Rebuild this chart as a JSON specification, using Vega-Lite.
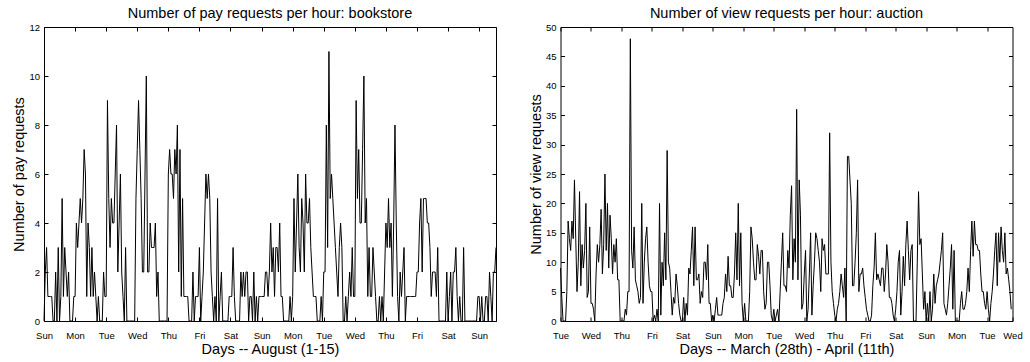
{
"$schema": "https://vega.github.io/schema/vega-lite/v6.json",
"padding": {"left": 11, "top": 5, "right": 5, "bottom": 5},
"background": "white",
"spacing": 28.5,
"config": {
  "view": {"stroke": "#000", "strokeWidth": 1},
  "font": "Liberation Sans",
  "axis": {"domain": false, "grid": false, "tickColor": "#000", "tickWidth": 1, "tickSize": -4, "labelColor": "#000", "labelFont": "Liberation Sans", "labelFontSize": 9.5, "titleFont": "Liberation Sans", "titleFontSize": 14.5, "titleFontWeight": "normal", "titleColor": "#000", "labelFlush": false, "labelOverlap": false},
  "axisX": {"labelPadding": 13, "titlePadding": 3},
  "axisY": {"labelPadding": 8.5, "titlePadding": 2},
  "title": {"fontSize": 14.5, "fontWeight": "normal", "font": "Liberation Sans", "color": "#000", "offset": 1}
},
"datasets": {
"pay": [{"h":0,"v":0},{"h":1,"v":2},{"h":2,"v":3},{"h":3,"v":1},{"h":4,"v":1},{"h":5,"v":1},{"h":6,"v":1},{"h":7,"v":0},{"h":8,"v":0},{"h":9,"v":2},{"h":10,"v":0},{"h":11,"v":3},{"h":12,"v":0},{"h":13,"v":1},{"h":14,"v":5},{"h":15,"v":1},{"h":16,"v":3},{"h":17,"v":2},{"h":18,"v":1},{"h":19,"v":2},{"h":20,"v":0},{"h":21,"v":0},{"h":22,"v":0},{"h":23,"v":1},
{"h":24,"v":1},{"h":25,"v":4},{"h":26,"v":3},{"h":27,"v":4},{"h":28,"v":5},{"h":29,"v":4},{"h":30,"v":5},{"h":31,"v":7},{"h":32,"v":6},{"h":33,"v":1},{"h":34,"v":4},{"h":35,"v":3},{"h":36,"v":1},{"h":37,"v":3},{"h":38,"v":1},{"h":39,"v":2},{"h":40,"v":1},{"h":41,"v":0},{"h":42,"v":1},{"h":43,"v":0},{"h":44,"v":0},{"h":45,"v":0},{"h":46,"v":2},{"h":47,"v":1},
{"h":48,"v":1},{"h":49,"v":9},{"h":50,"v":5},{"h":51,"v":3},{"h":52,"v":5},{"h":53,"v":4},{"h":54,"v":4},{"h":55,"v":6},{"h":56,"v":8},{"h":57,"v":2},{"h":58,"v":4},{"h":59,"v":6},{"h":60,"v":2},{"h":61,"v":1},{"h":62,"v":0},{"h":63,"v":3},{"h":64,"v":0},{"h":65,"v":0},{"h":66,"v":0},{"h":67,"v":0},{"h":68,"v":0},{"h":69,"v":0},{"h":70,"v":0},{"h":71,"v":5},
{"h":72,"v":7},{"h":73,"v":9},{"h":74,"v":7},{"h":75,"v":5},{"h":76,"v":2},{"h":77,"v":2},{"h":78,"v":6},{"h":79,"v":10},{"h":80,"v":2},{"h":81,"v":2},{"h":82,"v":4},{"h":83,"v":3},{"h":84,"v":3},{"h":85,"v":3},{"h":86,"v":4},{"h":87,"v":1},{"h":88,"v":2},{"h":89,"v":0},{"h":90,"v":0},{"h":91,"v":0},{"h":92,"v":0},{"h":93,"v":0},{"h":94,"v":0},{"h":95,"v":0},
{"h":96,"v":6},{"h":97,"v":7},{"h":98,"v":6},{"h":99,"v":6},{"h":100,"v":5},{"h":101,"v":7},{"h":102,"v":6},{"h":103,"v":8},{"h":104,"v":2},{"h":105,"v":7},{"h":106,"v":1},{"h":107,"v":5},{"h":108,"v":1},{"h":109,"v":1},{"h":110,"v":1},{"h":111,"v":1},{"h":112,"v":0},{"h":113,"v":0},{"h":114,"v":0},{"h":115,"v":2},{"h":116,"v":0},{"h":117,"v":1},{"h":118,"v":1},{"h":119,"v":1},
{"h":120,"v":3},{"h":121,"v":0},{"h":122,"v":1},{"h":123,"v":2},{"h":124,"v":4},{"h":125,"v":6},{"h":126,"v":5},{"h":127,"v":6},{"h":128,"v":5},{"h":129,"v":2},{"h":130,"v":1},{"h":131,"v":0},{"h":132,"v":1},{"h":133,"v":0},{"h":134,"v":5},{"h":135,"v":0},{"h":136,"v":1},{"h":137,"v":2},{"h":138,"v":0},{"h":139,"v":0},{"h":140,"v":0},{"h":141,"v":0},{"h":142,"v":0},{"h":143,"v":1},
{"h":144,"v":1},{"h":145,"v":1},{"h":146,"v":3},{"h":147,"v":1},{"h":148,"v":0},{"h":149,"v":0},{"h":150,"v":0},{"h":151,"v":0},{"h":152,"v":2},{"h":153,"v":1},{"h":154,"v":2},{"h":155,"v":1},{"h":156,"v":2},{"h":157,"v":2},{"h":158,"v":0},{"h":159,"v":1},{"h":160,"v":1},{"h":161,"v":0},{"h":162,"v":2},{"h":163,"v":0},{"h":164,"v":1},{"h":165,"v":0},{"h":166,"v":1},{"h":167,"v":1},
{"h":168,"v":1},{"h":169,"v":1},{"h":170,"v":1},{"h":171,"v":2},{"h":172,"v":2},{"h":173,"v":1},{"h":174,"v":2},{"h":175,"v":4},{"h":176,"v":2},{"h":177,"v":3},{"h":178,"v":1},{"h":179,"v":3},{"h":180,"v":3},{"h":181,"v":2},{"h":182,"v":4},{"h":183,"v":1},{"h":184,"v":1},{"h":185,"v":0},{"h":186,"v":0},{"h":187,"v":0},{"h":188,"v":0},{"h":189,"v":0},{"h":190,"v":1},{"h":191,"v":0},
{"h":192,"v":1},{"h":193,"v":5},{"h":194,"v":2},{"h":195,"v":4},{"h":196,"v":6},{"h":197,"v":3},{"h":198,"v":2},{"h":199,"v":5},{"h":200,"v":4},{"h":201,"v":2},{"h":202,"v":6},{"h":203,"v":4},{"h":204,"v":4},{"h":205,"v":5},{"h":206,"v":3},{"h":207,"v":2},{"h":208,"v":1},{"h":209,"v":1},{"h":210,"v":1},{"h":211,"v":0},{"h":212,"v":0},{"h":213,"v":0},{"h":214,"v":1},{"h":215,"v":0},
{"h":216,"v":2},{"h":217,"v":2},{"h":218,"v":8},{"h":219,"v":3},{"h":220,"v":11},{"h":221,"v":5},{"h":222,"v":6},{"h":223,"v":5},{"h":224,"v":4},{"h":225,"v":3},{"h":226,"v":2},{"h":227,"v":1},{"h":228,"v":3},{"h":229,"v":4},{"h":230,"v":3},{"h":231,"v":0},{"h":232,"v":0},{"h":233,"v":1},{"h":234,"v":0},{"h":235,"v":1},{"h":236,"v":2},{"h":237,"v":1},{"h":238,"v":3},{"h":239,"v":1},
{"h":240,"v":1},{"h":241,"v":9},{"h":242,"v":5},{"h":243,"v":7},{"h":244,"v":4},{"h":245,"v":4},{"h":246,"v":7},{"h":247,"v":10},{"h":248,"v":4},{"h":249,"v":5},{"h":250,"v":1},{"h":251,"v":3},{"h":252,"v":1},{"h":253,"v":1},{"h":254,"v":3},{"h":255,"v":2},{"h":256,"v":1},{"h":257,"v":0},{"h":258,"v":0},{"h":259,"v":1},{"h":260,"v":0},{"h":261,"v":1},{"h":262,"v":0},{"h":263,"v":2},
{"h":264,"v":4},{"h":265,"v":3},{"h":266,"v":5},{"h":267,"v":3},{"h":268,"v":4},{"h":269,"v":1},{"h":270,"v":4},{"h":271,"v":8},{"h":272,"v":4},{"h":273,"v":1},{"h":274,"v":0},{"h":275,"v":2},{"h":276,"v":1},{"h":277,"v":2},{"h":278,"v":3},{"h":279,"v":0},{"h":280,"v":1},{"h":281,"v":1},{"h":282,"v":1},{"h":283,"v":1},{"h":284,"v":1},{"h":285,"v":1},{"h":286,"v":1},{"h":287,"v":1},
{"h":288,"v":2},{"h":289,"v":2},{"h":290,"v":4},{"h":291,"v":5},{"h":292,"v":2},{"h":293,"v":5},{"h":294,"v":5},{"h":295,"v":5},{"h":296,"v":4},{"h":297,"v":4},{"h":298,"v":3},{"h":299,"v":1},{"h":300,"v":2},{"h":301,"v":2},{"h":302,"v":2},{"h":303,"v":1},{"h":304,"v":3},{"h":305,"v":0},{"h":306,"v":0},{"h":307,"v":0},{"h":308,"v":0},{"h":309,"v":0},{"h":310,"v":0},{"h":311,"v":2},
{"h":312,"v":0},{"h":313,"v":1},{"h":314,"v":2},{"h":315,"v":0},{"h":316,"v":2},{"h":317,"v":2},{"h":318,"v":3},{"h":319,"v":1},{"h":320,"v":0},{"h":321,"v":1},{"h":322,"v":0},{"h":323,"v":0},{"h":324,"v":3},{"h":325,"v":0},{"h":326,"v":0},{"h":327,"v":0},{"h":328,"v":0},{"h":329,"v":0},{"h":330,"v":0},{"h":331,"v":0},{"h":332,"v":0},{"h":333,"v":0},{"h":334,"v":0},{"h":335,"v":1},
{"h":336,"v":1},{"h":337,"v":0},{"h":338,"v":1},{"h":339,"v":0},{"h":340,"v":0},{"h":341,"v":1},{"h":342,"v":1},{"h":343,"v":0},{"h":344,"v":2},{"h":345,"v":1},{"h":346,"v":0},{"h":347,"v":2},{"h":348,"v":2},{"h":349,"v":3}],
"view": [{"h":0,"v":9},{"h":1,"v":4},{"h":2,"v":0},{"h":3,"v":0},{"h":4,"v":0},{"h":5,"v":5},{"h":6,"v":17},{"h":7,"v":14},{"h":8,"v":12},{"h":9,"v":17},{"h":10,"v":14},{"h":11,"v":24},{"h":12,"v":14},{"h":13,"v":5},{"h":14,"v":10},{"h":15,"v":22},{"h":16,"v":6},{"h":17,"v":13},{"h":18,"v":9},{"h":19,"v":12},{"h":20,"v":20},{"h":21,"v":4},{"h":22,"v":5},{"h":23,"v":16},
{"h":24,"v":3},{"h":25,"v":3},{"h":26,"v":2},{"h":27,"v":0},{"h":28,"v":8},{"h":29,"v":13},{"h":30,"v":10},{"h":31,"v":13},{"h":32,"v":19},{"h":33,"v":8},{"h":34,"v":13},{"h":35,"v":25},{"h":36,"v":12},{"h":37,"v":20},{"h":38,"v":9},{"h":39,"v":18},{"h":40,"v":14},{"h":41,"v":8},{"h":42,"v":13},{"h":43,"v":10},{"h":44,"v":14},{"h":45,"v":7},{"h":46,"v":7},{"h":47,"v":0},
{"h":48,"v":0},{"h":49,"v":0},{"h":50,"v":0},{"h":51,"v":2},{"h":52,"v":1},{"h":53,"v":5},{"h":54,"v":5},{"h":55,"v":48},{"h":56,"v":12},{"h":57,"v":9},{"h":58,"v":16},{"h":59,"v":7},{"h":60,"v":6},{"h":61,"v":5},{"h":62,"v":3},{"h":63,"v":4},{"h":64,"v":20},{"h":65,"v":3},{"h":66,"v":10},{"h":67,"v":14},{"h":68,"v":16},{"h":69,"v":10},{"h":70,"v":6},{"h":71,"v":5},
{"h":72,"v":5},{"h":73,"v":0},{"h":74,"v":1},{"h":75,"v":0},{"h":76,"v":2},{"h":77,"v":0},{"h":78,"v":20},{"h":79,"v":1},{"h":80,"v":10},{"h":81,"v":6},{"h":82,"v":15},{"h":83,"v":7},{"h":84,"v":29},{"h":85,"v":10},{"h":86,"v":9},{"h":87,"v":5},{"h":88,"v":1},{"h":89,"v":4},{"h":90,"v":3},{"h":91,"v":8},{"h":92,"v":6},{"h":93,"v":3},{"h":94,"v":1},{"h":95,"v":0},
{"h":96,"v":0},{"h":97,"v":4},{"h":98,"v":0},{"h":99,"v":3},{"h":100,"v":1},{"h":101,"v":9},{"h":102,"v":8},{"h":103,"v":12},{"h":104,"v":16},{"h":105,"v":6},{"h":106,"v":16},{"h":107,"v":7},{"h":108,"v":7},{"h":109,"v":8},{"h":110,"v":3},{"h":111,"v":5},{"h":112,"v":4},{"h":113,"v":10},{"h":114,"v":10},{"h":115,"v":7},{"h":116,"v":13},{"h":117,"v":3},{"h":118,"v":3},{"h":119,"v":0},
{"h":120,"v":1},{"h":121,"v":0},{"h":122,"v":2},{"h":123,"v":4},{"h":124,"v":1},{"h":125,"v":1},{"h":126,"v":1},{"h":127,"v":1},{"h":128,"v":3},{"h":129,"v":4},{"h":130,"v":8},{"h":131,"v":5},{"h":132,"v":11},{"h":133,"v":6},{"h":134,"v":6},{"h":135,"v":4},{"h":136,"v":4},{"h":137,"v":8},{"h":138,"v":15},{"h":139,"v":7},{"h":140,"v":20},{"h":141,"v":6},{"h":142,"v":15},{"h":143,"v":3},
{"h":144,"v":0},{"h":145,"v":3},{"h":146,"v":0},{"h":147,"v":0},{"h":148,"v":0},{"h":149,"v":5},{"h":150,"v":16},{"h":151,"v":14},{"h":152,"v":10},{"h":153,"v":7},{"h":154,"v":7},{"h":155,"v":13},{"h":156,"v":11},{"h":157,"v":8},{"h":158,"v":12},{"h":159,"v":12},{"h":160,"v":5},{"h":161,"v":2},{"h":162,"v":3},{"h":163,"v":10},{"h":164,"v":10},{"h":165,"v":6},{"h":166,"v":1},{"h":167,"v":0},
{"h":168,"v":2},{"h":169,"v":0},{"h":170,"v":1},{"h":171,"v":2},{"h":172,"v":0},{"h":173,"v":5},{"h":174,"v":10},{"h":175,"v":15},{"h":176,"v":6},{"h":177,"v":6},{"h":178,"v":5},{"h":179,"v":12},{"h":180,"v":9},{"h":181,"v":18},{"h":182,"v":23},{"h":183,"v":7},{"h":184,"v":14},{"h":185,"v":10},{"h":186,"v":36},{"h":187,"v":7},{"h":188,"v":24},{"h":189,"v":18},{"h":190,"v":2},{"h":191,"v":3},
{"h":192,"v":8},{"h":193,"v":12},{"h":194,"v":0},{"h":195,"v":2},{"h":196,"v":8},{"h":197,"v":15},{"h":198,"v":1},{"h":199,"v":6},{"h":200,"v":10},{"h":201,"v":15},{"h":202,"v":14},{"h":203,"v":12},{"h":204,"v":10},{"h":205,"v":5},{"h":206,"v":14},{"h":207,"v":12},{"h":208,"v":13},{"h":209,"v":8},{"h":210,"v":8},{"h":211,"v":8},{"h":212,"v":32},{"h":213,"v":10},{"h":214,"v":5},{"h":215,"v":3},
{"h":216,"v":1},{"h":217,"v":0},{"h":218,"v":2},{"h":219,"v":3},{"h":220,"v":5},{"h":221,"v":8},{"h":222,"v":6},{"h":223,"v":4},{"h":224,"v":9},{"h":225,"v":0},{"h":226,"v":28},{"h":227,"v":28},{"h":228,"v":24},{"h":229,"v":20},{"h":230,"v":6},{"h":231,"v":6},{"h":232,"v":10},{"h":233,"v":15},{"h":234,"v":24},{"h":235,"v":5},{"h":236,"v":8},{"h":237,"v":8},{"h":238,"v":9},{"h":239,"v":6},
{"h":240,"v":4},{"h":241,"v":2},{"h":242,"v":1},{"h":243,"v":0},{"h":244,"v":0},{"h":245,"v":1},{"h":246,"v":6},{"h":247,"v":9},{"h":248,"v":15},{"h":249,"v":7},{"h":250,"v":8},{"h":251,"v":7},{"h":252,"v":6},{"h":253,"v":9},{"h":254,"v":9},{"h":255,"v":5},{"h":256,"v":8},{"h":257,"v":13},{"h":258,"v":10},{"h":259,"v":4},{"h":260,"v":4},{"h":261,"v":3},{"h":262,"v":1},{"h":263,"v":0},
{"h":264,"v":2},{"h":265,"v":5},{"h":266,"v":10},{"h":267,"v":12},{"h":268,"v":1},{"h":269,"v":5},{"h":270,"v":11},{"h":271,"v":6},{"h":272,"v":13},{"h":273,"v":17},{"h":274,"v":12},{"h":275,"v":7},{"h":276,"v":12},{"h":277,"v":13},{"h":278,"v":0},{"h":279,"v":0},{"h":280,"v":0},{"h":281,"v":10},{"h":282,"v":22},{"h":283,"v":13},{"h":284,"v":14},{"h":285,"v":8},{"h":286,"v":2},{"h":287,"v":5},
{"h":288,"v":0},{"h":289,"v":3},{"h":290,"v":0},{"h":291,"v":5},{"h":292,"v":0},{"h":293,"v":2},{"h":294,"v":8},{"h":295,"v":3},{"h":296,"v":6},{"h":297,"v":7},{"h":298,"v":8},{"h":299,"v":10},{"h":300,"v":12},{"h":301,"v":15},{"h":302,"v":3},{"h":303,"v":2},{"h":304,"v":1},{"h":305,"v":3},{"h":306,"v":6},{"h":307,"v":9},{"h":308,"v":13},{"h":309,"v":2},{"h":310,"v":12},{"h":311,"v":0},
{"h":312,"v":0},{"h":313,"v":0},{"h":314,"v":0},{"h":315,"v":3},{"h":316,"v":5},{"h":317,"v":2},{"h":318,"v":2},{"h":319,"v":3},{"h":320,"v":5},{"h":321,"v":9},{"h":322,"v":5},{"h":323,"v":12},{"h":324,"v":17},{"h":325,"v":11},{"h":326,"v":17},{"h":327,"v":13},{"h":328,"v":13},{"h":329,"v":12},{"h":330,"v":12},{"h":331,"v":8},{"h":332,"v":5},{"h":333,"v":5},{"h":334,"v":3},{"h":335,"v":2},
{"h":336,"v":5},{"h":337,"v":2},{"h":338,"v":0},{"h":339,"v":3},{"h":340,"v":5},{"h":341,"v":8},{"h":342,"v":12},{"h":343,"v":15},{"h":344,"v":6},{"h":345,"v":15},{"h":346,"v":10},{"h":347,"v":16},{"h":348,"v":12},{"h":349,"v":10},{"h":350,"v":15},{"h":351,"v":8},{"h":352,"v":9},{"h":353,"v":7},{"h":354,"v":5},{"h":355,"v":2}]
},
"hconcat": [
{
  "width": 452, "height": 294,
  "title": "Number of pay requests per hour: bookstore",
  "data": {"name": "pay"},
  "layer": [
    {"mark": {"type": "line", "color": "#000", "strokeWidth": 1},
     "encoding": {
       "x": {"field": "h", "type": "quantitative", "scale": {"domain": [0, 349], "nice": false, "zero": false},
             "axis": {"orient": "bottom", "title": "Days -- August (1-15)", "values": [0,24,48,72,96,120,144,168,192,216,240,264,288,312,336], "labelExpr": "['Sun','Mon','Tue','Wed','Thu','Fri','Sat'][floor(datum.value/24)%7]"}},
       "y": {"field": "v", "type": "quantitative", "scale": {"domain": [0, 12], "nice": false},
             "axis": {"orient": "left", "title": "Number of pay requests", "values": [0,2,4,6,8,10,12]}}
     }},
    {"mark": {"type": "line", "strokeOpacity": 0},
     "encoding": {
       "x": {"field": "h", "type": "quantitative", "axis": {"orient": "top", "title": null, "labels": false, "values": [0,24,48,72,96,120,144,168,192,216,240,264,288,312,336]}},
       "y": {"field": "v", "type": "quantitative", "axis": {"orient": "right", "title": null, "labels": false, "values": [0,2,4,6,8,10,12]}}
     }}
  ],
  "resolve": {"axis": {"x": "independent", "y": "independent"}}
},
{
  "width": 452, "height": 294,
  "title": "Number of view requests per hour: auction",
  "data": {"name": "view"},
  "layer": [
    {"mark": {"type": "line", "color": "#000", "strokeWidth": 1},
     "encoding": {
       "x": {"field": "h", "type": "quantitative", "scale": {"domain": [0, 356], "nice": false, "zero": false},
             "axis": {"orient": "bottom", "title": "Days -- March (28th) - April (11th)", "values": [0,24,48,72,96,120,144,168,192,216,240,264,288,312,336,356], "labelExpr": "datum.value == 356 ? 'Wed' : ['Tue','Wed','Thu','Fri','Sat','Sun','Mon'][floor(datum.value/24)%7]"}},
       "y": {"field": "v", "type": "quantitative", "scale": {"domain": [0, 50], "nice": false},
             "axis": {"orient": "left", "title": "Number of view requests", "values": [0,5,10,15,20,25,30,35,40,45,50]}}
     }},
    {"mark": {"type": "line", "strokeOpacity": 0},
     "encoding": {
       "x": {"field": "h", "type": "quantitative", "axis": {"orient": "top", "title": null, "labels": false, "values": [0,24,48,72,96,120,144,168,192,216,240,264,288,312,336]}},
       "y": {"field": "v", "type": "quantitative", "axis": {"orient": "right", "title": null, "labels": false, "values": [0,5,10,15,20,25,30,35,40,45,50]}}
     }}
  ],
  "resolve": {"axis": {"x": "independent", "y": "independent"}}
}
]
}
